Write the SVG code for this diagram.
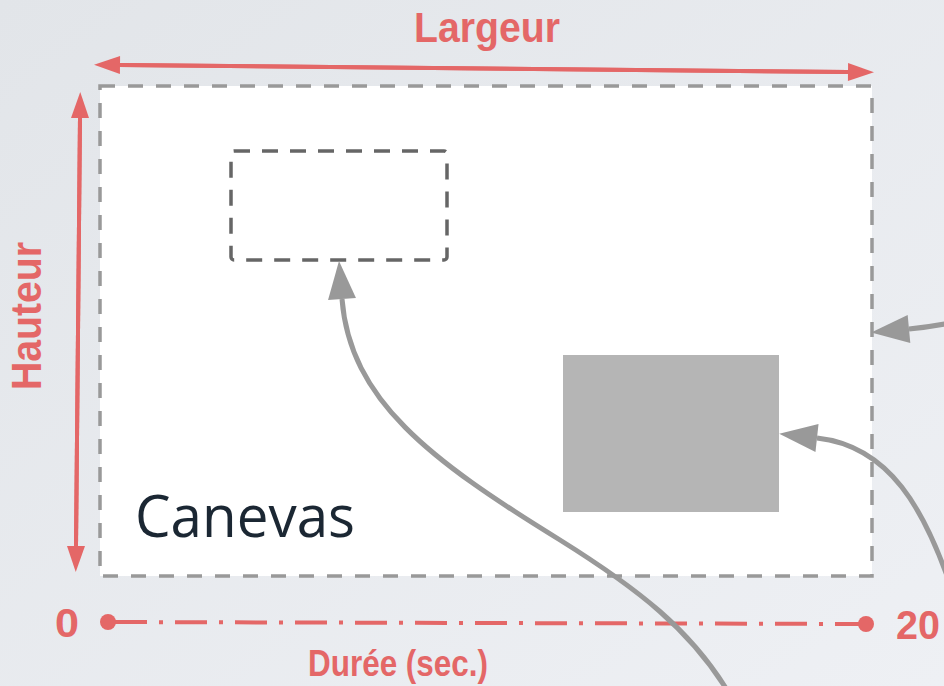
<svg xmlns="http://www.w3.org/2000/svg" width="944" height="686" viewBox="0 0 944 686">
<defs>
<linearGradient id="bg" x1="0" y1="0" x2="1" y2="1">
<stop offset="0" stop-color="#e2e5e9"/>
<stop offset="1" stop-color="#eef0f4"/>
</linearGradient>
<marker id="redHead" markerUnits="userSpaceOnUse" markerWidth="28" markerHeight="20" refX="0" refY="9" orient="auto" overflow="visible">
<path d="M0,0 L26,9 L0,18 z" fill="#e46767"/>
</marker>
<marker id="grayHead" markerUnits="userSpaceOnUse" markerWidth="40" markerHeight="30" refX="0" refY="14" orient="auto" overflow="visible">
<path d="M0,0 L38,14 L0,28 z" fill="#999999"/>
</marker>
</defs>
<style>
.red { fill:#e46767; font-family:"Liberation Sans", Arial, sans-serif; font-weight:bold; }
.redline { stroke:#e46767; stroke-width:4; fill:none; }
.conn { stroke:#999999; stroke-width:5; fill:none; }
</style>
<rect x="0" y="0" width="944" height="686" fill="url(#bg)"/>

<g id="canevas">
<rect x="100" y="86" width="772" height="490" fill="#ffffff" stroke="#999999" stroke-width="3.5" stroke-dasharray="15 13"/>
<text x="135" y="537" font-family="'Open Sans', 'Noto Sans', sans-serif" font-size="59" fill="#1b2733" textLength="220" lengthAdjust="spacingAndGlyphs">Canevas</text>
</g>

<g id="zone">
<rect x="231" y="151" width="216" height="109" rx="3" fill="none" stroke="#666666" stroke-width="3.5" stroke-dasharray="16 12"/>
</g>

<g id="element">
<rect x="563" y="355" width="216" height="157" fill="#b5b5b5"/>
</g>

<g id="largeur">
<path class="redline" d="M848,72 L120,65" marker-end="url(#redHead)"/>
<path class="redline" d="M120,65 L848,72" marker-end="url(#redHead)"/>
<text class="red" x="487" y="42" font-size="43" text-anchor="middle" textLength="146" lengthAdjust="spacingAndGlyphs">Largeur</text>
</g>

<g id="hauteur">
<path class="redline" d="M76,546 L80,118" marker-end="url(#redHead)"/>
<path class="redline" d="M80,118 L76,546" marker-end="url(#redHead)"/>
<text class="red" transform="translate(41,316) rotate(-90)" font-size="43" text-anchor="middle" textLength="148" lengthAdjust="spacingAndGlyphs">Hauteur</text>
</g>

<g id="duree">
<line x1="108" y1="622" x2="866" y2="624" class="redline" stroke-dasharray="0 7 32 12 4 12 32 12 4 12 32 12 4 12 32 12 4 12 32 12 4 12 32 12 4 12 32 12 4 12 32 12 4 12 32 12 4 12 32 12 4 12 32 12 4 12 32 12 4 12 32 12 4 12 40"/>
<circle cx="108" cy="622" r="8" fill="#e46767"/>
<circle cx="866" cy="624" r="8" fill="#e46767"/>
<text class="red" x="67" y="637" font-size="40" text-anchor="middle" textLength="24" lengthAdjust="spacingAndGlyphs">0</text>
<text class="red" x="918" y="639" font-size="40" text-anchor="middle" textLength="44" lengthAdjust="spacingAndGlyphs">20</text>
<text class="red" x="398" y="676" font-size="36" text-anchor="middle" textLength="180" lengthAdjust="spacingAndGlyphs">Durée (sec.)</text>
</g>

<g id="connectors">
<path class="conn" d="M727,690 C690,630 640,590 560,540 C430,460 350,400 342,299" marker-end="url(#grayHead)"/>
<path class="conn" d="M952,590 C925,510 890,446 817,438" marker-end="url(#grayHead)"/>
<path class="conn" d="M950,323 Q930,327 909,329" marker-end="url(#grayHead)"/>
</g>
</svg>
